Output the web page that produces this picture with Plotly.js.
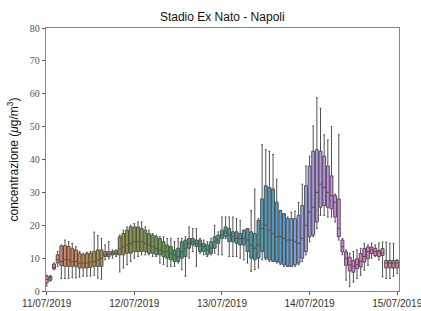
<!DOCTYPE html>
<html>
<head>
<meta charset="utf-8">
<script src="https://cdn.plot.ly/plotly-3.0.1.min.js"></script>
<style>html,body{margin:0;padding:0;background:#fff;}#chart{width:421px;height:311px;}</style>
</head>
<body>
<div id="chart"></div>
<script>
// hour index since 11/07/2019 00:00
var hours = [];
for (var i = 0; i <= 96; i++) hours.push(i);

var lowerWhisker = [1.5,3,6.5,7.5,3.8,3.8,3.8,4,4,4.2,4.5,4.5,4.5,4.8,3.9,3.6,9.5,9.8,10,10.5,5.8,7,8,9,
  10,10.5,11,11,11,10.5,10.5,8.5,8,7.5,7.5,7.5,8.5,6.5,4.5,10,12,7.5,11.5,11,10.5,11,11.5,11,
  11,16,10.5,10.5,10.5,10,9.5,8.5,6,6.5,7,9.5,9.5,9,9,8.5,8,7.5,7.5,7.5,7.5,8,9,11,
  15,16.5,19,23,23,22.5,22.5,21,15.5,11,3.3,1.3,2.7,3.8,4.8,6.3,7.8,10,10.5,9.5,4.3,3.8,3.8,4.5,5.3];
var q1 = [2.5,3.3,6.7,8.5,7.8,7.5,7.5,7.5,7.5,7,7,7,7.2,7.5,7.5,7.5,10.5,10.5,11,11,11,11,11.5,11.5,
  12,12,12,12,11.5,11.5,11,11,10.5,10,9.5,9,9,10,10.5,13,14,13.5,12,12,11,11.5,13,14.5,
  16,16.5,15,15,14.5,14,14,12,10,9.5,10,12,10,9.5,9,9,8.5,8,7.5,7.5,8,8.5,10,12,
  16.5,17,21,25.5,26,25.5,25,22.5,16.5,11.9,7.8,6.1,5.7,6.8,7.3,8.8,9.8,11.4,10.8,10.5,10.8,7,7,7,7];
var median = [3.5,4,7.2,9.5,9,9.5,9.5,9,9,8.5,8.5,8.5,8.7,9,9.5,10,11,11.2,11.5,11.5,13,13.5,14,14.5,
  15,15,15,14.5,14,13.5,13,12.5,12,12,11.5,11,10.5,12,13,14.5,15,14.5,14,13.5,12.5,13,15,15.5,
  17,18,17,16.5,16,16,16,15.5,14,13,14,19,20,18.5,17.5,16.5,16.5,16,15.5,15.5,15,14.5,16,20,
  24,25.5,30,32.5,31.5,30,29,27,19,13.5,10,8,7.5,8,9,10.5,12,12.5,12,12,11.5,8.5,8.5,8.5,8.5];
var q3 = [4.5,4.5,8.2,11,13.7,13.8,13.5,13,12.5,11.5,11,11.5,11.5,12,12.5,12.5,12,12,12,12.3,16.5,17.5,18.5,19.5,
  19.5,19.5,19,18.5,17.5,17,16.5,16,15,14,13.5,12.5,13,15,15.5,16,16,15.5,15.5,14.5,14,15,16.5,17,
  18.5,19.5,19,18,18,17.5,18.5,19,18,17.5,21.5,28,32,31.5,31,27,24.5,23.5,22,22,22,23,26,32,
  38,42.5,43,42.5,41,38,35,29,28,15.5,11.9,10.3,9.3,9.8,11.4,12.9,13.4,13.4,13,12.4,12.9,9.3,9.3,9.3,9.3];
var upperWhisker = [4.8,4.7,8.5,12,14,15.5,15,14.5,13.5,12,11.5,11.8,12,17.9,16.9,16,14,15,12.5,12.5,17,18.5,19.5,20,
  20.5,21,21,19.5,18.5,17.5,17,16.5,16.5,16,16,15,16,16,16.5,19.5,19,19,16,15.5,15,16,20,18,
  22.5,22.5,22.5,22.5,22,21.5,18.5,19,24.5,31,22,44.5,43,42.5,41.5,34,24,22.5,22.5,24,24.3,27,32.5,38,
  41,50.2,58.8,55.6,47.5,45.9,50,29.5,47.5,16,12.5,11.5,12,12.5,13,14.5,14,14.6,14,14.6,14.9,14.9,14.5,14.5,9.5];
var tickPos = [0, 24, 48, 72, 96];
var tickText = ['11/07/2019', '12/07/2019', '13/07/2019', '14/07/2019', '15/07/2019'];
var yTicks = [0, 10, 20, 30, 40, 50, 60, 70, 80];

// seaborn husl palette + desaturation
function huslToRgb(H, S, L) {
  var m = [[3.2406,-1.5372,-0.4986],[-0.9689,1.8758,0.0415],[0.0557,-0.2040,1.0570]];
  var refU = 0.19784, refV = 0.46834, kappa = 903.2962962962963, eps = 0.0088564516;
  function maxChroma(L, H) {
    var hr = H / 360 * 2 * Math.PI, sinH = Math.sin(hr), cosH = Math.cos(hr);
    var sub1 = Math.pow(L + 16, 3) / 1560896;
    var sub2 = sub1 > eps ? sub1 : L / kappa;
    var res = Infinity;
    m.forEach(function (r) {
      var top = (0.99915*r[0] + 1.05122*r[1] + 1.14460*r[2]) * sub2;
      var rb = 0.86330*r[2] - 0.17266*r[1];
      var lb = 0.12949*r[2] - 0.38848*r[0];
      var bottom = (rb*sinH + lb*cosH) * sub2;
      [0, 1].forEach(function (t) {
        var C = L * (top - 1.05122*t) / (bottom + 0.17266*sinH*t);
        if (C > 0 && C < res) res = C;
      });
    });
    return res;
  }
  var C = maxChroma(L, H) / 100 * S;
  var hr = H / 360 * 2 * Math.PI;
  var U = C * Math.cos(hr), V = C * Math.sin(hr);
  var t = (L + 16) / 116;
  var vY = Math.pow(t, 3) > eps ? Math.pow(t, 3) : (116*t - 16) / kappa;
  var vU = U / (13*L) + refU, vV = V / (13*L) + refV;
  var Y = vY;
  var X = -(9*Y*vU) / ((vU - 4)*vV - vU*vV);
  var Z = (9*Y - 15*vV*Y - vV*X) / (3*vV);
  return m.map(function (r) {
    var c = r[0]*X + r[1]*Y + r[2]*Z;
    c = c <= 0.0031308 ? 12.92*c : 1.055*Math.pow(c, 1/2.4) - 0.055;
    return Math.min(1, Math.max(0, c));
  });
}
function desat(rgb, p) {
  var r = rgb[0], g = rgb[1], b = rgb[2];
  var mx = Math.max(r,g,b), mn = Math.min(r,g,b), l = (mx+mn)/2, h = 0, s = 0;
  if (mx !== mn) {
    var d = mx - mn;
    s = l <= 0.5 ? d/(mx+mn) : d/(2-mx-mn);
    var rc = (mx-r)/d, gc = (mx-g)/d, bc = (mx-b)/d;
    if (r === mx) h = bc - gc; else if (g === mx) h = 2 + rc - bc; else h = 4 + gc - rc;
    h = ((h/6) % 1 + 1) % 1;
  }
  s *= p;
  function v(m1, m2, hue) {
    hue = ((hue % 1) + 1) % 1;
    if (hue < 1/6) return m1 + (m2-m1)*hue*6;
    if (hue < 0.5) return m2;
    if (hue < 2/3) return m1 + (m2-m1)*(2/3-hue)*6;
    return m1;
  }
  if (s === 0) return [l,l,l];
  var m2 = l <= 0.5 ? l*(1+s) : l+s-l*s, m1 = 2*l - m2;
  return [v(m1,m2,h+1/3), v(m1,m2,h), v(m1,m2,h-1/3)];
}
var n = hours.length;
var traces = hours.map(function (h, i) {
  var hue = ((i / n + 0.01) % 1) * 359;
  var c = desat(huslToRgb(hue, 90, 65), 0.75);
  var col = 'rgb(' + c.map(function (v) { return Math.round(v*255); }).join(',') + ')';
  return {
    type: 'box', x: [h], q1: [q1[i]], median: [median[i]], q3: [q3[i]],
    lowerfence: [lowerWhisker[i]], upperfence: [upperWhisker[i]],
    width: 0.8, whiskerwidth: 0.6, boxpoints: false,
    fillcolor: col, line: {color: '#505050', width: 1},
    hoverinfo: 'skip', showlegend: false
  };
});

var layout = {
  width: 421, height: 311,
  margin: {l: 46, r: 22, t: 28, b: 20},
  paper_bgcolor: '#fff', plot_bgcolor: '#fff',
  showlegend: false,
  title: {text: 'Stadio Ex Nato - Napoli', x: 0.528, xanchor: 'center', y: 0.945, yanchor: 'middle',
    font: {family: 'Liberation Sans, Arial, sans-serif', size: 12, color: '#111'}},
  xaxis: {
    range: [-0.2, 96.5], tickmode: 'array', tickvals: tickPos, ticktext: tickText,
    ticklabeloverflow: 'allow',
    showgrid: false, zeroline: false, showline: true, mirror: true, linecolor: '#888', linewidth: 1.2,
    ticks: 'outside', ticklen: 3, tickcolor: '#555', tickwidth: 1,
    tickfont: {family: 'Liberation Sans, Arial, sans-serif', size: 10, color: '#333'}
  },
  yaxis: {
    range: [0, 80], tickmode: 'array', tickvals: yTicks,
    showgrid: false, zeroline: false, showline: true, mirror: true, linecolor: '#888', linewidth: 1.2,
    ticks: 'outside', ticklen: 3, tickcolor: '#555', tickwidth: 1,
    tickfont: {family: 'Liberation Serif, Times New Roman, serif', size: 10, color: '#555'},
    title: {text: 'concentrazione (<i>μ</i>g/m<sup>3</sup>)', standoff: 8,
      font: {family: 'Liberation Sans, Arial, sans-serif', size: 12, color: '#111'}}
  }
};
Plotly.newPlot('chart', traces, layout, {staticPlot: true, displayModeBar: false});
</script>
</body>
</html>
